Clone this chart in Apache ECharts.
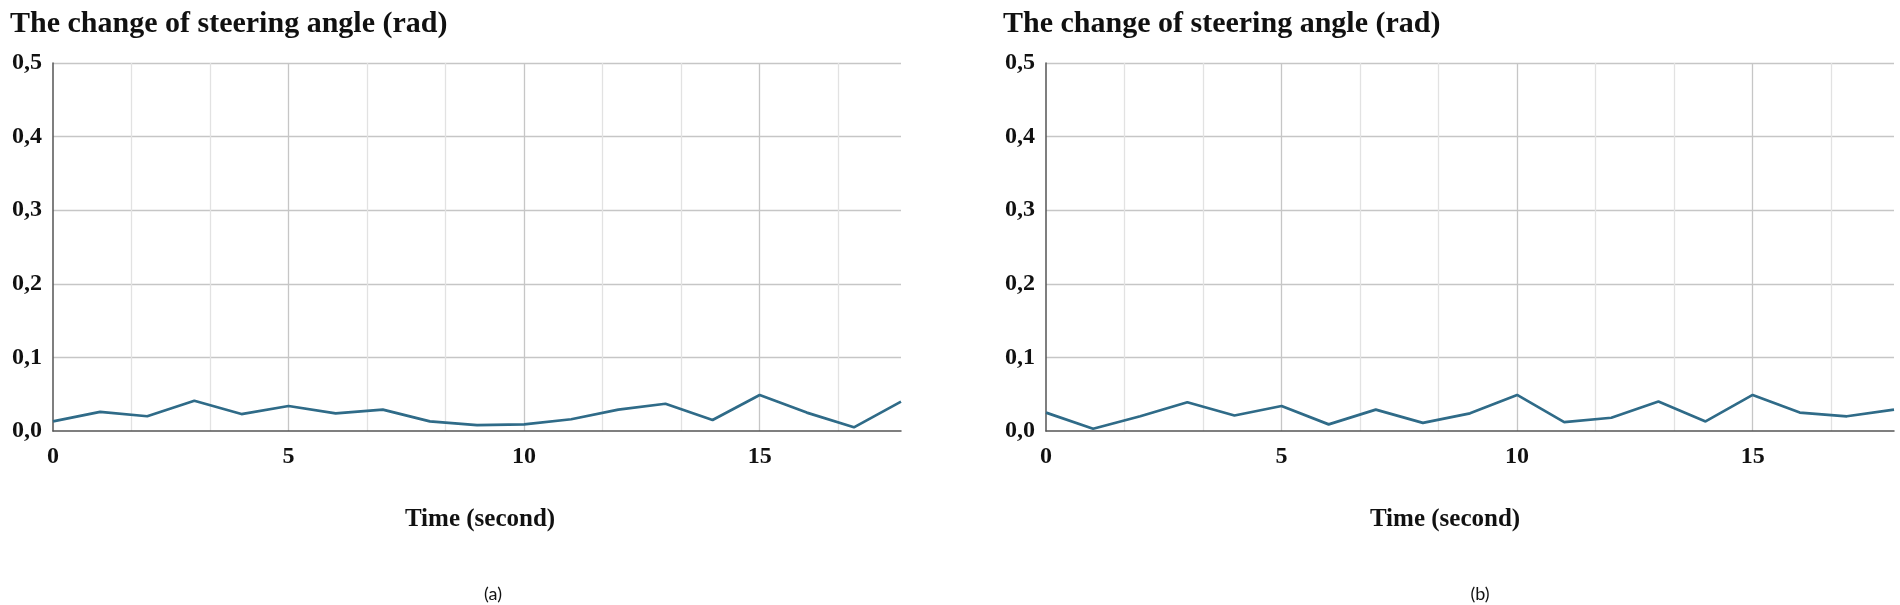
<!DOCTYPE html>
<html>
<head>
<meta charset="utf-8">
<script src="https://cdn.jsdelivr.net/npm/echarts@6/dist/echarts.min.js"></script>
<style>html,body{margin:0;padding:0;background:#fff;}#c{width:1900px;height:605px;}</style>
</head>
<body>
<div id="c"></div>
<script>
// ---- data ----
const time = [0,1,2,3,4,5,6,7,8,9,10,11,12,13,14,15,16,17,18];
const steeringA = [0.013,0.026,0.020,0.041,0.023,0.034,0.024,0.029,0.013,0.008,0.009,0.016,0.029,0.037,0.015,0.049,0.025,0.005,0.040];
const steeringB = [0.025,0.003,0.020,0.039,0.021,0.034,0.009,0.029,0.011,0.024,0.049,0.012,0.018,0.040,0.013,0.049,0.025,0.020,0.029];
const xTickLabels = [0,5,10,15];
const yTickValues = [0,0.1,0.2,0.3,0.4,0.5];
const titleText = 'The change of steering angle (rad)';
const xName = 'Time (second)';
const captions = ['(a)','(b)'];

const serif = '"Liberation Serif","Times New Roman",serif';
const lineColor = '#2f6b88';
const majorGrid = '#c6c6c6', minorGrid = '#e2e2e2';

function xAxisFor(gi){
  return {
    type:'value', gridIndex:gi, min:0, max:18, interval:5/3,
    axisLine:{show:true,onZero:false,lineStyle:{color:'#555',width:1.5}},
    axisTick:{show:false},
    axisLabel:{fontFamily:serif,fontWeight:'bold',fontSize:24,color:'#111',margin:14,
      formatter:v=>{const r=Math.round(v); return (Math.abs(v-r)<1e-6 && xTickLabels.includes(r))? String(r):'';}},
    // first drawn line is at 5/3 (min line hidden), so majors fall on every third line
    splitLine:{show:true,showMinLine:false,showMaxLine:false,lineStyle:{color:[minorGrid,minorGrid,majorGrid],width:1.3}}
  };
}
function yAxisFor(gi){
  return {
    type:'value', gridIndex:gi, min:0, max:0.5, interval:0.1,
    axisLine:{show:true,lineStyle:{color:'#555',width:1.5}},
    axisTick:{show:false},
    axisLabel:{fontFamily:serif,fontWeight:'bold',fontSize:24,color:'#111',margin:11,
      formatter:v=>yTickValues.some(t=>Math.abs(t-v)<1e-9)? v.toFixed(1).replace('.',','):''},
    splitLine:{show:true,showMinLine:false,lineStyle:{color:majorGrid,width:1.3}}
  };
}
function seriesFor(gi,vals){
  return {type:'line',xAxisIndex:gi,yAxisIndex:gi,data:time.map((t,i)=>[t,vals[i]]),
    showSymbol:false,symbol:'none',lineStyle:{color:lineColor,width:2.7},animation:false};
}
function label(text,x,y,font){
  return {type:'text',x:x,y:y,style:{text:text,font:font,fill:'#111',align:'center',verticalAlign:'middle'}};
}
const chart = echarts.init(document.getElementById('c'),null,{renderer:'canvas'});
chart.setOption({
  backgroundColor:'#fff',
  animation:false,
  title:[
    {text:titleText,left:5,top:4,textStyle:{fontFamily:serif,fontWeight:'bold',fontSize:30,color:'#111'}},
    {text:titleText,left:998,top:4,textStyle:{fontFamily:serif,fontWeight:'bold',fontSize:30,color:'#111'}}
  ],
  grid:[
    {left:53,top:63,width:848,height:368,containLabel:false},
    {left:1046,top:63,width:848,height:368,containLabel:false}
  ],
  xAxis:[xAxisFor(0),xAxisFor(1)],
  yAxis:[yAxisFor(0),yAxisFor(1)],
  series:[seriesFor(0,steeringA),seriesFor(1,steeringB)],
  graphic:[
    label(xName,480,520,'bold 25px '+serif),
    label(xName,1445,520,'bold 25px '+serif),
    label(captions[0],493,594,'18px Lato, "Liberation Sans", sans-serif'),
    label(captions[1],1480,594,'18px Lato, "Liberation Sans", sans-serif')
  ]
});
</script>
</body>
</html>
